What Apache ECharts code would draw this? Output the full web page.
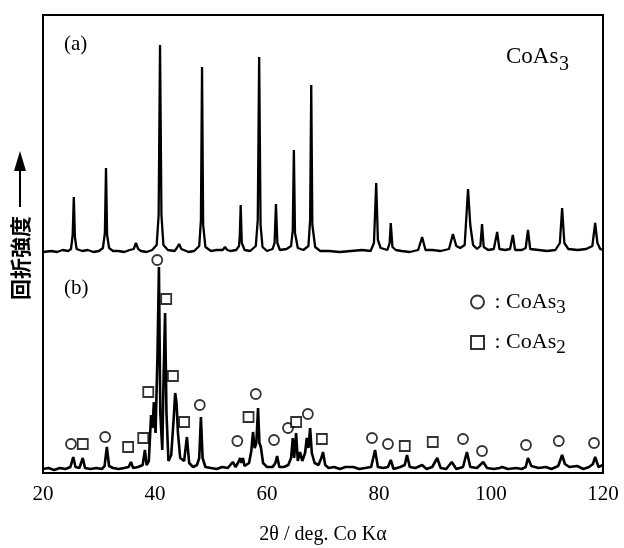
<!DOCTYPE html>
<html>
<head>
<meta charset="utf-8">
<script src="https://cdn.jsdelivr.net/npm/echarts@6/dist/echarts.min.js"></script>
<style>
html,body{margin:0;padding:0;background:#fff;}
#chart{width:624px;height:548px;}
</style>
</head>
<body>
<div id="chart"></div>
<script>
// x-axis ticks
var xTicks = [20, 40, 60, 80, 100, 120];

// (a) CoAs3 pattern: [2theta, intensity]
var traceA = [
[20.0,3],[21.5,4],[22.5,3],[23.5,5],[24.5,4],[25.0,6],[25.3,20],[25.5,58],[25.7,18],[26.0,6],
[27.0,4],[28.0,5],[29.0,3],[30.0,4],[30.7,7],[31.05,22],[31.25,87],[31.45,20],[31.8,7],
[32.5,4],[33.5,4],[34.5,3],[35.5,5],[36.2,6],[36.6,12],[37.0,6],[37.5,4],[38.5,3],[39.5,5],
[40.3,10],[40.65,40],[40.9,210],[41.15,40],[41.5,10],[42.3,5],[43.5,4],[43.9,7],[44.3,11],[44.7,6],
[45.0,5],[46.0,3],[47.0,4],[47.9,9],[48.2,35],[48.4,188],[48.6,30],[49.0,8],[50.0,4],
[51.0,5],[52.1,5],[52.5,8],[52.9,5],[53.5,4],[54.5,5],[55.0,9],[55.15,20],[55.3,50],[55.5,12],[56.0,5],
[57.0,4],[58.0,9],[58.35,35],[58.6,198],[58.85,30],[59.2,8],[60.0,4],[61.0,6],
[61.35,12],[61.6,51],[61.85,12],[62.3,5],[63.5,6],[64.3,9],[64.6,25],[64.8,105],[65.0,22],
[65.5,7],[66.5,5],[67.4,9],[67.7,35],[67.9,170],[68.1,30],[68.6,8],[69.5,4],[71.0,4],
[73.0,3],[75.0,4],[77.0,5],[78.5,4],[79.1,12],[79.5,72],[79.8,15],[80.3,7],[81.5,5],[81.9,12],
[82.1,32],[82.4,8],[83.0,5],[84.0,4],[85.5,3],[87.0,5],[87.7,18],[88.3,5],[89.5,5],
[91.0,4],[92.5,6],[93.2,21],[93.8,9],[94.5,7],[95.3,10],[95.9,66],[96.3,30],[96.8,10],
[97.5,6],[98.1,9],[98.4,31],[98.7,8],[99.5,5],[100.5,6],[101.1,23],[101.5,6],[102.5,5],
[103.4,6],[103.9,20],[104.3,5],[105.5,5],[106.2,7],[106.6,25],[107.0,6],[108.5,5],
[110.0,4],[111.5,5],[112.3,12],[112.7,47],[113.1,12],[113.8,6],[115.5,5],[117.0,6],
[118.1,9],[118.6,32],[119.0,12],[119.5,6],[120.0,5]
];

// (b) mixed CoAs3 + CoAs2 pattern: [2theta, intensity]
var traceB = [
[20.0,4],[21.0,5],[22.0,3],[23.0,5],[24.0,4],[24.9,6],[25.4,16],[25.8,6],[26.5,5],
[27.1,15],[27.5,5],[28.5,4],[29.5,5],[30.5,4],[31.0,7],[31.4,26],[31.8,7],[32.5,5],
[33.5,4],[34.5,5],[35.3,6],[35.7,11],[36.1,5],[37.0,6],[37.8,8],[38.2,23],[38.5,8],
[38.9,12],[39.3,58],[39.55,45],[39.8,71],[40.1,40],[40.45,120],[40.7,206],[40.95,60],
[41.3,23],[41.55,100],[41.8,160],[42.05,60],[42.4,12],[42.9,18],[43.4,60],[43.6,80],
[43.85,70],[44.1,40],[44.5,15],[45.2,12],[45.7,36],[46.1,10],[46.8,6],[47.5,8],
[47.9,15],[48.2,56],[48.5,15],[49.0,6],[50.0,5],[51.0,4],[52.0,6],[53.0,5],[53.9,11],
[54.4,6],[55.0,12],[55.2,15],[55.45,10],[55.7,15],[56.0,7],[56.8,10],[57.2,22],
[57.5,41],[57.8,25],[58.1,30],[58.4,65],[58.65,30],[58.9,26],[59.3,10],[60.0,6],
[61.0,6],[61.5,10],[61.8,17],[62.2,6],[63.0,6],[63.8,8],[64.3,15],[64.6,35],[64.85,15],
[65.2,40],[65.5,12],[65.9,21],[66.3,12],[66.8,20],[67.1,35],[67.4,25],[67.7,45],
[68.0,20],[68.5,10],[69.2,8],[69.7,15],[70.0,21],[70.4,8],[71.0,5],[72.0,6],[73.0,4],
[74.0,6],[75.4,6],[76.5,4],[77.5,5],[78.6,6],[79.3,23],[79.8,6],[80.8,5],[81.6,6],
[82.1,13],[82.6,4],[83.8,6],[84.6,8],[85.0,18],[85.5,6],[86.5,5],[87.7,8],[88.5,4],
[89.5,6],[90.4,15],[91.0,5],[92.0,4],[93.0,11],[93.8,4],[95.0,6],[95.7,21],[96.3,6],
[97.5,5],[98.6,11],[99.3,5],[100.5,4],[101.5,5],[102.0,6],[103.0,4],[104.5,5],
[105.5,4],[106.2,6],[106.6,15],[107.2,7],[108.5,5],[109.8,6],[110.8,4],[112.0,7],
[112.7,18],[113.2,9],[114.0,6],[115.4,7],[116.5,4],[117.5,6],[118.2,9],[118.6,16],
[119.2,6],[120.0,8]
];

// peak markers in (b)
var markCoAs3 = [
[25.0,29],[31.1,36],[40.4,213],[48.0,68],[54.7,32],[58.0,79],[61.25,33],[63.75,45],
[67.3,59],[78.75,35],[81.6,29],[95.0,34],[98.4,22],[106.25,28],[112.1,32],[118.4,30]
];
var markCoAs2 = [
[27.1,29],[35.2,26],[37.9,35],[38.8,81],[42.0,174],[43.2,97],[45.2,51],[56.7,56],
[65.2,51],[69.8,34],[84.6,27],[89.6,31]
];

var serif = 'Liberation Serif';
var chart = echarts.init(document.getElementById('chart'), null, {renderer: 'canvas'});

function frameY(grid, pos, max) {
  return {
    type: 'value', gridIndex: grid, position: pos, min: 0, max: max,
    axisLine: {show: true, onZero: false, lineStyle: {color: '#000', width: 2}},
    axisTick: {show: false}, axisLabel: {show: false}, splitLine: {show: false}
  };
}

chart.setOption({
  backgroundColor: '#fff',
  animation: false,
  grid: [
    {left: 43, right: 21, top: 15, height: 240},
    {left: 43, right: 21, top: 255, bottom: 75}
  ],
  xAxis: [
    {type: 'value', gridIndex: 0, position: 'top', min: 20, max: 120, interval: 20,
     axisLine: {show: true, onZero: false, lineStyle: {color: '#000', width: 2}},
     axisTick: {show: false}, axisLabel: {show: false}, splitLine: {show: false}},
    {type: 'value', gridIndex: 1, position: 'bottom', min: 20, max: 120, interval: 20,
     axisLine: {show: true, onZero: false, lineStyle: {color: '#000', width: 2}},
     axisTick: {show: false}, splitLine: {show: false},
     axisLabel: {margin: 11, fontFamily: serif, fontSize: 21, color: '#000',
       formatter: function (v) { return xTicks.indexOf(v) >= 0 ? String(v) : ''; }},
     name: '2θ / deg. Co Kα', nameLocation: 'middle', nameGap: 52,
     nameTextStyle: {fontFamily: serif, fontSize: 20, color: '#000'}}
  ],
  yAxis: [
    frameY(0, 'left', 240), frameY(0, 'right', 240),
    frameY(1, 'left', 218), frameY(1, 'right', 218)
  ],
  legend: {
    orient: 'vertical', left: 465, top: 286, itemWidth: 13, itemHeight: 13, itemGap: 14,
    data: ['CoAs3', 'CoAs2'],
    formatter: function (name) { return ' : CoAs{s|' + name.slice(4) + '}'; },
    textStyle: {fontFamily: serif, fontSize: 22, color: '#000',
      rich: {s: {fontFamily: serif, fontSize: 19, color: '#000', padding: [12, 0, 0, 0]}}}
  },
  graphic: [
    {type: 'text', left: 64, top: 34, style: {text: '(a)', font: '21px "Liberation Serif"', fill: '#000'}},
    {type: 'text', left: 64, top: 278, style: {text: '(b)', font: '21px "Liberation Serif"', fill: '#000'}},
    {type: 'text', left: 506, top: 45, style: {text: 'CoAs', font: '23px "Liberation Serif"', fill: '#000'}},
    {type: 'text', left: 559, top: 55, style: {text: '3', font: '20px "Liberation Serif"', fill: '#000'}},
    {type: 'text', x: 20, y: 258, rotation: Math.PI / 2,
     style: {text: '回折強度', font: 'bold 21px "Noto Sans CJK JP"', fill: '#000', align: 'center', verticalAlign: 'middle'}},
    {type: 'line', shape: {x1: 20, y1: 207, x2: 20, y2: 168}, style: {stroke: '#000', lineWidth: 2}},
    {type: 'polygon', shape: {points: [[20, 151], [14, 171], [26, 171]]}, style: {fill: '#000'}}
  ],
  series: [
    {name: 'a', type: 'line', xAxisIndex: 0, yAxisIndex: 0, data: traceA, showSymbol: false,
     lineStyle: {color: '#000', width: 2.3}, silent: true},
    {name: 'b', type: 'line', xAxisIndex: 1, yAxisIndex: 2, data: traceB, showSymbol: false,
     lineStyle: {color: '#000', width: 2.6}, silent: true},
    {name: 'CoAs3', type: 'scatter', xAxisIndex: 1, yAxisIndex: 2, data: markCoAs3,
     symbol: 'circle', symbolSize: 10,
     itemStyle: {color: '#fff', borderColor: '#000', borderWidth: 1.8}},
    {name: 'CoAs2', type: 'scatter', xAxisIndex: 1, yAxisIndex: 2, data: markCoAs2,
     symbol: 'rect', symbolSize: 10,
     itemStyle: {color: '#fff', borderColor: '#000', borderWidth: 1.8}}
  ]
});
</script>
</body>
</html>
